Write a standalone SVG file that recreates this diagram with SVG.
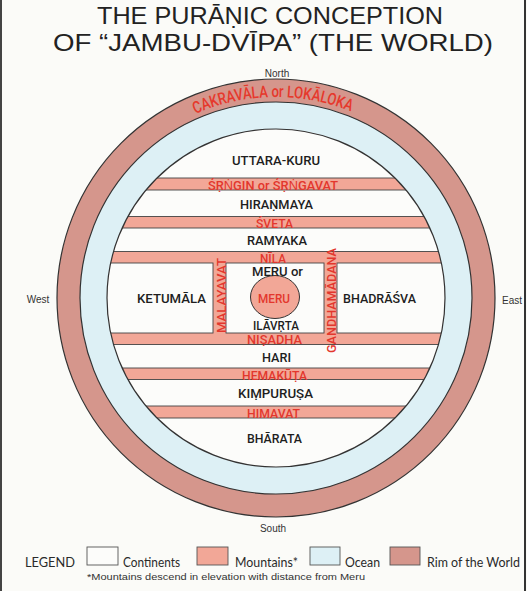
<svg xmlns="http://www.w3.org/2000/svg" width="527" height="591" viewBox="0 0 527 591">
<style>
.title{font-family:"Liberation Sans",Arial,sans-serif;font-size:24px;fill:#222}
.dir{font-family:"Liberation Sans",Arial,sans-serif;font-size:10px;fill:#333}
.land{font-family:Roboto,"Liberation Sans",Arial,sans-serif;font-weight:500;font-size:12.5px;fill:#1e1e1e;text-anchor:middle}
.mtn{font-family:Roboto,"Liberation Sans",Arial,sans-serif;font-weight:500;font-size:12.5px;fill:#e3372d;text-anchor:middle}
.leg{font-family:Lato,"Liberation Sans",sans-serif;font-size:13.5px;fill:#2a2a2a}
.note{font-family:"Liberation Sans",Arial,sans-serif;font-size:9.5px;fill:#333}
.cont{fill:#fcfcfa;stroke:#444;stroke-width:0.9}
.ring{stroke:#333;stroke-width:1.2}
</style>
<defs>
<clipPath id="inner"><circle cx="276" cy="298" r="169"/></clipPath>
<path id="rimArc" d="M 75,298 A 201,201 0 0 1 477,298" fill="none"/>
</defs>
<rect x="0" y="0" width="527" height="591" fill="#fbfbf8"/>
<line x1="1" y1="0" x2="1" y2="591" stroke="#444" stroke-width="2"/>
<line x1="525" y1="0" x2="525" y2="591" stroke="#333" stroke-width="2"/>

<g id="title">
<text class="title" x="270" y="24" text-anchor="middle" textLength="346" lengthAdjust="spacingAndGlyphs">THE PURĀṆIC CONCEPTION</text>
<text class="title" x="273" y="51" text-anchor="middle" textLength="440" lengthAdjust="spacingAndGlyphs">OF “JAMBU-DVĪPA” (THE WORLD)</text>
</g>

<g id="directions">
<text class="dir" x="277" y="77" text-anchor="middle">North</text>
<text class="dir" x="273" y="532" text-anchor="middle">South</text>
<text class="dir" x="38" y="303" text-anchor="middle">West</text>
<text class="dir" x="512" y="304" text-anchor="middle">East</text>
</g>

<g id="rim">
<circle class="ring" cx="276" cy="298" r="219" fill="#d5968c"/>
<text font-family="Roboto, Liberation Sans, Arial, sans-serif" font-weight="500" font-size="16.5" fill="#e6392d" text-anchor="middle"><textPath href="#rimArc" startOffset="49.5%" textLength="160" lengthAdjust="spacingAndGlyphs">CAKRAVĀLA or LOKĀLOKA</textPath></text>
</g>

<g id="ocean">
<circle class="ring" cx="276" cy="298" r="196" fill="#ddf0f5"/>
</g>

<g id="mountains-base">
<circle cx="276" cy="298" r="169" fill="#f2a797"/>
</g>

<g id="continents" clip-path="url(#inner)">
<rect class="cont" x="90" y="110" width="372" height="68"/>
<rect class="cont" x="90" y="190" width="372" height="26.5"/>
<rect class="cont" x="90" y="228" width="372" height="23.5"/>
<rect class="cont" x="90" y="263" width="123" height="70"/>
<rect class="cont" x="226" y="263" width="98" height="70"/>
<rect class="cont" x="337" y="263" width="125" height="70"/>
<rect class="cont" x="90" y="344.5" width="372" height="23.5"/>
<rect class="cont" x="90" y="379.5" width="372" height="26.5"/>
<rect class="cont" x="90" y="418" width="372" height="80"/>
</g>
<circle class="ring" cx="276" cy="298" r="169" fill="none"/>

<g id="meru">
<ellipse cx="275" cy="297" rx="24.5" ry="21.5" fill="#f2a797" stroke="#333" stroke-width="1"/>
<text class="mtn" x="274" y="303" textLength="32" lengthAdjust="spacingAndGlyphs">MERU</text>
</g>

<g id="land-labels">
<text class="land" x="276" y="165" textLength="88" lengthAdjust="spacingAndGlyphs">UTTARA-KURU</text>
<text class="land" x="276.5" y="209" textLength="73" lengthAdjust="spacingAndGlyphs">HIRAṆMAYA</text>
<text class="land" x="277" y="245" textLength="60" lengthAdjust="spacingAndGlyphs">RAMYAKA</text>
<text class="land" x="277.5" y="276" textLength="51" lengthAdjust="spacingAndGlyphs">MERU or</text>
<text class="land" x="171.5" y="303" textLength="69" lengthAdjust="spacingAndGlyphs">KETUMĀLA</text>
<text class="land" x="379.5" y="303" textLength="73" lengthAdjust="spacingAndGlyphs">BHADRĀŚVA</text>
<text class="land" x="276" y="330" textLength="46" lengthAdjust="spacingAndGlyphs">ILĀVṚTA</text>
<text class="land" x="276.5" y="362" textLength="29" lengthAdjust="spacingAndGlyphs">HARI</text>
<text class="land" x="275.5" y="398" textLength="75" lengthAdjust="spacingAndGlyphs">KIṂPURUṢA</text>
<text class="land" x="274.5" y="443" textLength="55" lengthAdjust="spacingAndGlyphs">BHĀRATA</text>
</g>

<g id="mountain-labels">
<text class="mtn" x="273" y="189.5" textLength="130" lengthAdjust="spacingAndGlyphs">ŚṚṄGIN or ŚṚṄGAVAT</text>
<text class="mtn" x="274.5" y="228" textLength="37" lengthAdjust="spacingAndGlyphs">ŚVETA</text>
<text class="mtn" x="273" y="262.5" font-size="12" textLength="26" lengthAdjust="spacingAndGlyphs">NĪLA</text>
<text class="mtn" x="274.5" y="344" textLength="55" lengthAdjust="spacingAndGlyphs">NIṢADHA</text>
<text class="mtn" x="274.5" y="380" textLength="65" lengthAdjust="spacingAndGlyphs">HEMAKŪṬA</text>
<text class="mtn" x="273.5" y="417.5" textLength="53" lengthAdjust="spacingAndGlyphs">HIMAVAT</text>
<text class="mtn" transform="translate(225.5,295.5) rotate(-90)" textLength="75" lengthAdjust="spacingAndGlyphs">MALAYAVAT</text>
<text class="mtn" transform="translate(336,300.5) rotate(-90)" textLength="105" lengthAdjust="spacingAndGlyphs">GANDHAMĀDANA</text>
</g>

<g id="legend">
<text class="leg" x="25" y="567" textLength="50" lengthAdjust="spacingAndGlyphs">LEGEND</text>
<rect x="87" y="547" width="31" height="18" fill="#fcfcfa" stroke="#555" stroke-width="0.9"/>
<text class="leg" x="123" y="567" textLength="57" lengthAdjust="spacingAndGlyphs">Continents</text>
<rect x="197" y="547" width="31" height="18" fill="#f2a797" stroke="#555" stroke-width="0.9"/>
<text class="leg" x="235" y="567" textLength="63" lengthAdjust="spacingAndGlyphs">Mountains*</text>
<rect x="310" y="547" width="30" height="18" fill="#ddf0f5" stroke="#555" stroke-width="0.9"/>
<text class="leg" x="345" y="567" textLength="35" lengthAdjust="spacingAndGlyphs">Ocean</text>
<rect x="390" y="547" width="30" height="18" fill="#d5968c" stroke="#555" stroke-width="0.9"/>
<text class="leg" x="427" y="567" textLength="93" lengthAdjust="spacingAndGlyphs">Rim of the World</text>
<text class="note" x="87" y="580" textLength="278" lengthAdjust="spacingAndGlyphs">*Mountains descend in elevation with distance from Meru</text>
</g>
</svg>
